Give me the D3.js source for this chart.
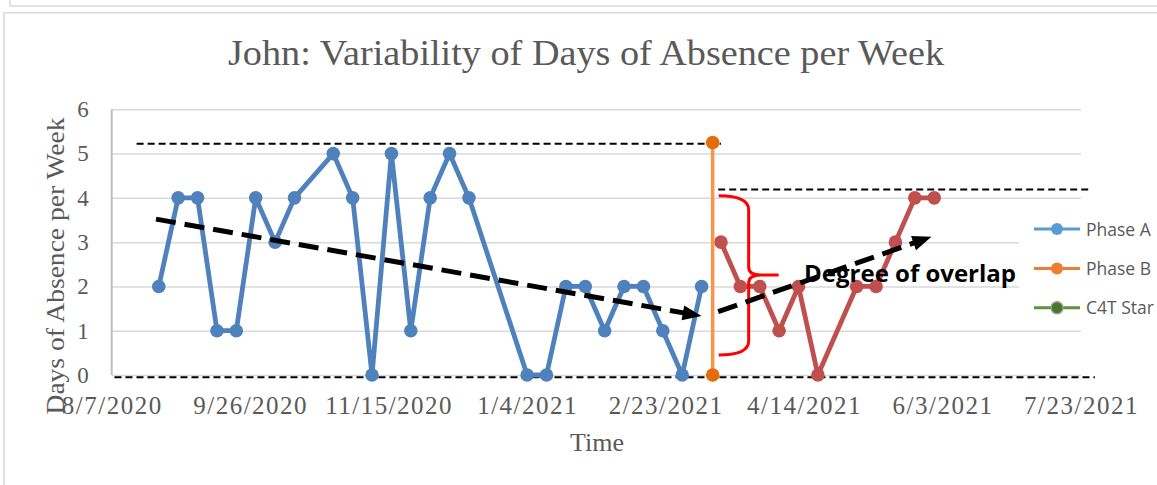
<!DOCTYPE html>
<meta charset="utf-8">
<title>John: Variability of Days of Absence per Week</title>
<style>
body { margin: 0; background: #fff; }
svg { display: block; }
.grid line { stroke: #D9D9D9; stroke-width: 1.5; }
.grid path { display: none; }
.axis--y text, .axis--x text { font-family: "Liberation Serif", serif; fill: #595959; }
.legend text { font-family: "Open Sans", sans-serif; font-size: 17.5px; fill: #595959; }
</style>
<body>
<svg width="1157" height="485"></svg>
<script src="https://cdnjs.cloudflare.com/ajax/libs/d3/7.8.5/d3.min.js"></script>
<script>

// weekly absence counts, baseline (Phase A)
var phaseADates = ["8/24/2020","8/31/2020","9/7/2020","9/14/2020","9/21/2020","9/28/2020","10/5/2020","10/12/2020",
  "10/26/2020","11/2/2020","11/9/2020","11/16/2020","11/23/2020","11/30/2020","12/7/2020","12/14/2020",
  "1/4/2021","1/11/2021","1/18/2021","1/25/2021","2/1/2021","2/8/2021","2/15/2021","2/22/2021","3/1/2021","3/8/2021"];
var phaseAValues = [2,4,4,1,1,4,3,4,5,4,0,5,1,4,5,4,0,0,2,2,1,2,2,1,0,2];

// phase change line
var phaseBDates = ["3/12/2021","3/12/2021"];
var phaseBValues = [0,5.25];

// intervention weeks
var interventionDates = ["3/15/2021","3/22/2021","3/29/2021","4/5/2021","4/12/2021","4/19/2021",
  "5/3/2021","5/10/2021","5/17/2021","5/24/2021","5/31/2021"];
var interventionValues = [3,2,2,1,2,0,2,2,3,4,4];

var xTickLabels = ["8/7/2020","9/26/2020","11/15/2020","1/4/2021","2/23/2021","4/14/2021","6/3/2021","7/23/2021"];
var yTickValues = [0,1,2,3,4,5,6];

var legendNames = ["Phase A","Phase B","C4T Star"];
var legendColors = ["#5B9BD5","#ED7D31","#5E9140"];

// annotation lines drawn by hand on the original (date, value)
var rangeLines = [
  {from: "8/16/2020", to: "3/15/2021", value: 5.22},
  {from: "3/14/2021", to: "7/27/2021", value: 4.19},
  {from: "8/8/2020", to: "7/28/2021", value: -0.05}
];
var trendArrows = [
  {from: ["8/23/2020", 3.52], to: ["3/8/2021", 1.33]},
  {from: ["3/14/2021", 1.43], to: ["5/30/2021", 3.12]}
];

var parse = d3.timeParse("%m/%d/%Y");
var svg = d3.select("svg");

var plotLeft = 111.7, plotRight = 1081, plotTop = 109.3, plotBottom = 375;

var x = d3.scaleTime()
  .domain([parse(xTickLabels[0]), parse(xTickLabels[xTickLabels.length - 1])])
  .range([plotLeft, plotRight]);
var y = d3.scaleLinear().domain([0, 6]).range([plotBottom, plotTop]);

// frame
svg.append("rect").attr("x", 10).attr("y", -20).attr("width", 1200).attr("height", 26)
  .attr("fill", "none").attr("stroke", "#D9D9D9").attr("stroke-width", 1.5);
svg.append("rect").attr("x", 4).attr("y", 12.7).attr("width", 1200).attr("height", 500)
  .attr("fill", "#fff").attr("stroke", "#D9D9D9").attr("stroke-width", 1.5);

// title
svg.append("text")
  .attr("x", 586).attr("y", 65)
  .attr("text-anchor", "middle")
  .attr("textLength", 716).attr("lengthAdjust", "spacingAndGlyphs")
  .style("font-family", "Liberation Serif, serif").style("font-size", "35px")
  .attr("fill", "#595959")
  .text("John: Variability of Days of Absence per Week");

// gridlines + y labels
svg.append("g")
  .attr("class", "grid axis--y")
  .attr("transform", "translate(" + plotLeft + ",0)")
  .call(d3.axisLeft(y).tickValues(yTickValues).tickSize(-(plotRight - plotLeft)).tickPadding(23).tickFormat(d3.format("d")))
  .selectAll("text").style("font-size", "23px");

svg.append("line")
  .attr("x1", plotLeft).attr("x2", plotLeft).attr("y1", plotTop).attr("y2", plotBottom)
  .attr("stroke", "#BFBFBF").attr("stroke-width", 2);

// x labels
var xa = svg.append("g")
  .attr("class", "axis--x")
  .attr("transform", "translate(0," + plotBottom + ")")
  .call(d3.axisBottom(x).tickValues(xTickLabels.map(parse)).tickSize(0).tickPadding(21)
    .tickFormat(d3.timeFormat("%-m/%-d/%Y")));
xa.select(".domain").remove();
xa.selectAll("text").style("font-size", "25px").style("letter-spacing", "1.5px");

// axis titles
svg.append("text")
  .attr("transform", "translate(64,266) rotate(-90)")
  .attr("text-anchor", "middle")
  .attr("textLength", 297).attr("lengthAdjust", "spacingAndGlyphs")
  .style("font-family", "Liberation Serif, serif").style("font-size", "26px")
  .attr("fill", "#595959")
  .text("Days of Absence per Week");

svg.append("text")
  .attr("x", 597).attr("y", 451)
  .attr("text-anchor", "middle")
  .style("font-family", "Liberation Serif, serif").style("font-size", "26px")
  .attr("fill", "#595959")
  .text("Time");

// legend box (covers gridlines)
var lg = svg.append("g").attr("class", "legend");
lg.append("rect").attr("x", 1019).attr("y", 206).attr("width", 140).attr("height", 116).attr("fill", "#fff");
legendNames.forEach(function(name, i) {
  var ly = 229 + i * 39.4;
  lg.append("line").attr("x1", 1034).attr("x2", 1080).attr("y1", ly).attr("y2", ly)
    .attr("stroke", legendColors[i]).attr("stroke-width", 3);
  lg.append("circle").attr("cx", 1057).attr("cy", ly).attr("r", 6)
    .attr("fill", i == 2 ? "#4A7530" : legendColors[i])
    .attr("stroke", i == 2 ? "#8FA684" : "none").attr("stroke-width", 1.5);
  lg.append("text").attr("x", 1086).attr("y", ly + 6.5).text(name);
});

// thin dashed range lines (behind the series)
rangeLines.forEach(function(r) {
  svg.append("line")
    .attr("x1", x(parse(r.from))).attr("x2", x(parse(r.to)))
    .attr("y1", y(r.value)).attr("y2", y(r.value))
    .attr("stroke", "#000").attr("stroke-width", 2).attr("stroke-dasharray", "7,4");
});

// series
function pts(dates, values) {
  return dates.map(function(d, i) { return {date: parse(d), value: values[i]}; });
}
var line = d3.line().x(function(d) { return x(d.date); }).y(function(d) { return y(d.value); });

function drawSeries(data, lineColor, dotColor, width) {
  svg.append("path").datum(data)
    .attr("d", line).attr("fill", "none")
    .attr("stroke", lineColor).attr("stroke-width", width).attr("stroke-linejoin", "round");
  svg.append("g").selectAll("circle")
    .data(data).enter().append("circle")
    .attr("cx", function(d) { return x(d.date); })
    .attr("cy", function(d) { return y(d.value); })
    .attr("r", 6.8)
    .attr("fill", dotColor);
}

drawSeries(pts(phaseADates, phaseAValues), "#4F81BD", "#4F81BD", 4.8);
drawSeries(pts(interventionDates, interventionValues), "#C0504D", "#C0504D", 4.8);
drawSeries(pts(phaseBDates, phaseBValues), "#F79646", "#E46C0A", 3.5);

// overlap bracket
var bx = x(parse(phaseBDates[0]));
var bTop = y(4.05), bBot = y(0.45), bMid = y(2.26);
svg.append("path")
  .attr("d", "M" + (bx + 6) + "," + bTop + " Q" + (bx + 36) + "," + bTop + " " + (bx + 36) + "," + (bTop + 14) +
    " L" + (bx + 36) + "," + (bMid - 8) + " Q" + (bx + 36) + "," + bMid + " " + (bx + 48) + "," + bMid +
    " L" + (bx + 66) + "," + bMid +
    " M" + (bx + 48) + "," + bMid + " Q" + (bx + 36) + "," + bMid + " " + (bx + 36) + "," + (bMid + 8) +
    " L" + (bx + 36) + "," + (bBot - 14) + " Q" + (bx + 36) + "," + bBot + " " + (bx + 6) + "," + bBot)
  .attr("fill", "none").attr("stroke", "#FF0000").attr("stroke-width", 3);

// label
svg.append("text")
  .attr("x", x(parse("4/14/2021"))).attr("y", y(2.1))
  .style("font-family", "Open Sans, sans-serif").style("font-size", "24px").style("font-weight", "bold")
  .attr("fill", "#000")
  .text("Degree of overlap");

// trend arrows
trendArrows.forEach(function(a) {
  var x0 = x(parse(a.from[0])), y0 = y(a.from[1]);
  var x1 = x(parse(a.to[0])), y1 = y(a.to[1]);
  var ang = Math.atan2(y1 - y0, x1 - x0);
  var ex = x1 - 14 * Math.cos(ang), ey = y1 - 14 * Math.sin(ang);
  svg.append("line")
    .attr("x1", x0).attr("y1", y0).attr("x2", ex).attr("y2", ey)
    .attr("stroke", "#000").attr("stroke-width", 5).attr("stroke-dasharray", "20,9");
  svg.append("path")
    .attr("d", "M0,0 L-19,-7.5 L-19,7.5 Z")
    .attr("transform", "translate(" + x1 + "," + y1 + ") rotate(" + (ang * 180 / Math.PI) + ")")
    .attr("fill", "#000");
});

</script>
</body>
